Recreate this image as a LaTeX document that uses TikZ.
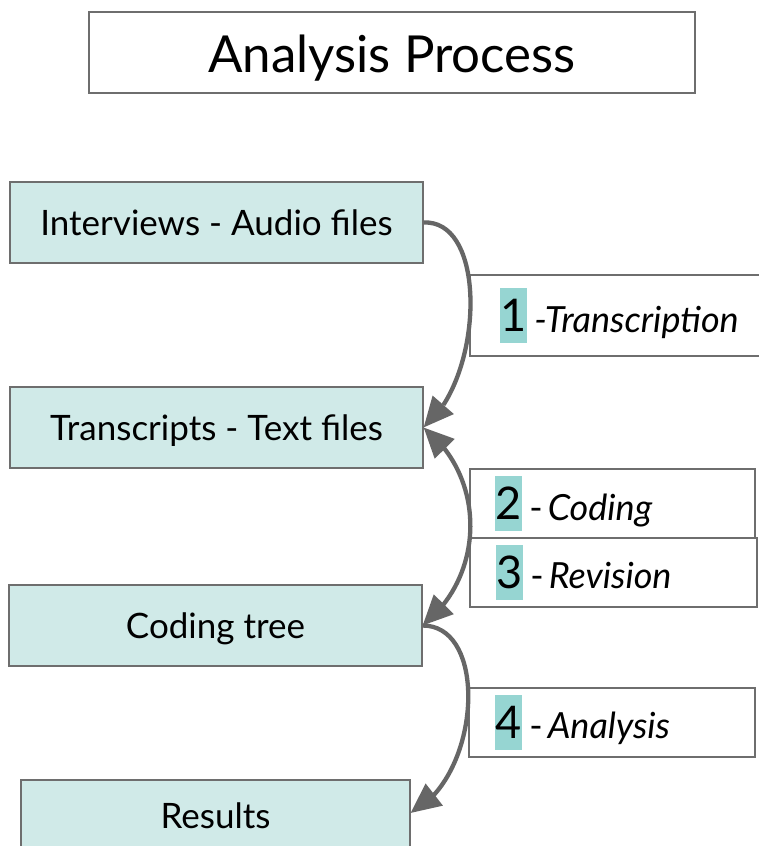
\documentclass[tikz,border=0pt]{standalone}
\usepackage{fontspec}
\setmainfont{Lato}
\usetikzlibrary{arrows.meta,bending,calc}
\definecolor{boxfill}{HTML}{D0EAE8}
\definecolor{numfill}{HTML}{96D5D2}
\definecolor{edgegray}{HTML}{666666}
\definecolor{bordergray}{HTML}{6E6E6E}
\begin{document}
\begin{tikzpicture}[x=1pt,y=-1pt,
  stagebox/.style={draw=bordergray,line width=1.2pt,fill=boxfill,minimum width=413pt,minimum height=81pt,inner sep=0pt,text height=32pt,text depth=6pt,font=\fontsize{35}{40}\selectfont},
  labelbox/.style={draw=bordergray,line width=1.2pt,fill=white,inner sep=0pt},
  numbox/.style={fill=numfill,minimum width=27pt,minimum height=55pt,inner sep=0pt,font=\fontsize{45}{50}\selectfont},
  labeltext/.style={anchor=base west,inner sep=0pt,font=\fontsize{36}{40}\selectfont\itshape},
  flow/.style={draw=edgegray,line width=4.3pt,-{Triangle[length=30pt,width=27pt]}},
  flowboth/.style={draw=edgegray,line width=4.3pt,{Triangle[length=30pt,width=27pt]}-{Triangle[length=30pt,width=27pt]}}]
\useasboundingbox (0,0) rectangle (758,846);
\fill[white] (0,0) rectangle (758,846);
% title
\node[draw=bordergray,line width=1.2pt,minimum width=606pt,minimum height=81pt,inner sep=0pt,text height=45pt,text depth=6pt,font=\fontsize{51}{58}\selectfont] (title) at (392,52.5) {Analysis Process};
% stages
\node[stagebox] (I) at (216.5,222.5) {Interviews - Audio files};
\node[stagebox] (T) at (216.5,427.5) {Transcripts - Text files};
\node[stagebox] (C) at (215.5,625.5) {Coding tree};
\node[stagebox,minimum width=389pt,minimum height=70pt] (R) at (215.5,815) {Results};
% label boxes
\node[labelbox,minimum width=320pt,minimum height=81pt] (L1) at (630,315.5) {};
\node[labelbox,minimum width=285pt,minimum height=69pt] (L2) at (612.5,503.5) {};
\node[labelbox,minimum width=287pt,minimum height=69pt] (L3) at (613.5,572.5) {};
\node[labelbox,minimum width=286pt,minimum height=69pt] (L4) at (612,722.5) {};
% numbers
\node[numbox] (n1) at (513.5,315.5) {1};
\node[numbox] (n2) at (508.5,503.5) {2};
\node[numbox] (n3) at (509.5,572.5) {3};
\node[numbox] (n4) at (508.5,722.5) {4};
\node[labeltext] (t1) at ($(n1.east)+(7,16.5)$) {-Transcription};
\node[labeltext] (t2) at ($(n2.east)+(7,16.5)$) {\upshape-\hspace{5pt}\itshape Coding};
\node[labeltext] (t3) at ($(n3.east)+(7,15.5)$) {\upshape-\hspace{5pt}\itshape Revision};
\node[labeltext] (t4) at ($(n4.east)+(7,15.5)$) {\upshape-\hspace{5pt}\itshape Analysis};
% connectors
\draw[flow] (I.east) .. controls +(65,-3) and +(60,-48) .. (T.east);
\draw[flowboth] (T.east) .. controls +(63,50) and +(63,-50) .. (C.east);
\coordinate (Rin) at ($(R.east)+(0,-2)$);
\draw[flow] (C.east) .. controls +(67,0) and +(70,-35) .. (Rin);
\end{tikzpicture}
\end{document}
